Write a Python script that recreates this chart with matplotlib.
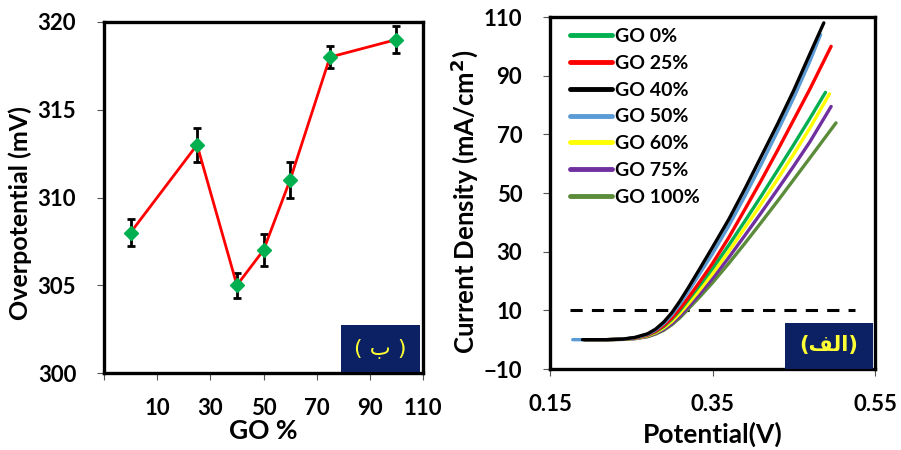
import matplotlib
matplotlib.use("Agg")
import matplotlib.pyplot as plt
from matplotlib.patches import Rectangle

plt.rcParams['font.family'] = ['Lato', 'DejaVu Sans']
plt.rcParams['font.weight'] = 'bold'

# ---- Left panel data: overpotential vs GO % ----
go_pct = [0, 25, 40, 50, 60, 75, 100]
overpot = [308, 313, 305, 307, 311, 318, 319]
overpot_err = [0.75, 0.95, 0.7, 0.9, 1.05, 0.63, 0.75]
left_xticks = [-10, 10, 30, 50, 70, 90, 110]
left_xticklabels = ['', '10', '30', '50', '70', '90', '110']
left_yticks = [300, 305, 310, 315, 320]

# ---- Right panel data: polarization curves ----
series_labels = ['GO 0%', 'GO 25%', 'GO 40%', 'GO 50%', 'GO 60%', 'GO 75%', 'GO 100%']
series_colors = ['#00B050', '#FF0000', '#000000', '#5B9BD5', '#FFFF00', '#7030A0', '#5B8C3A']

v_go40 = [0.19, 0.22, 0.24, 0.255, 0.27, 0.28, 0.29, 0.30, 0.31, 0.32, 0.335, 0.35, 0.37, 0.39, 0.41, 0.43, 0.45, 0.47, 0.487]
j_go40 = [0, 0, 0.2, 0.8, 2.0, 3.6, 6.0, 9.2, 13.2, 17.6, 24.5, 31.5, 41, 51.5, 62.5, 73.5, 85, 97.5, 108]

v_go50 = [0.178, 0.22, 0.24, 0.255, 0.27, 0.28, 0.29, 0.30, 0.31, 0.32, 0.335, 0.35, 0.37, 0.39, 0.41, 0.43, 0.45, 0.47, 0.483]
j_go50 = [0, 0, 0.2, 0.7, 1.8, 3.3, 5.5, 8.5, 12.2, 16.3, 22.8, 29.3, 38.8, 49, 59.8, 71, 82.5, 95, 104]

v_go25 = [0.193, 0.22, 0.24, 0.255, 0.27, 0.28, 0.29, 0.30, 0.31, 0.32, 0.335, 0.35, 0.37, 0.39, 0.41, 0.43, 0.45, 0.47, 0.496]
j_go25 = [0, 0, 0.2, 0.6, 1.6, 2.9, 4.8, 7.4, 10.6, 14.2, 20, 26, 34.8, 44.5, 54.3, 64.5, 75, 85.5, 100]

v_go0 = [0.193, 0.22, 0.24, 0.255, 0.27, 0.28, 0.29, 0.30, 0.31, 0.32, 0.335, 0.35, 0.37, 0.39, 0.41, 0.43, 0.45, 0.47, 0.489]
j_go0 = [0, 0, 0.2, 0.6, 1.5, 2.7, 4.5, 7.0, 10.0, 13.5, 18.8, 24.3, 32.2, 40.5, 49, 57.7, 66.5, 75.5, 84.3]

v_go60 = [0.193, 0.22, 0.24, 0.255, 0.27, 0.28, 0.29, 0.30, 0.31, 0.32, 0.335, 0.35, 0.37, 0.39, 0.41, 0.43, 0.45, 0.47, 0.494]
j_go60 = [0, 0, 0.15, 0.5, 1.3, 2.4, 4.0, 6.2, 9.0, 12.2, 17.2, 22.5, 30.1, 38.2, 46.3, 54.7, 63.3, 72.2, 83.8]

v_go75 = [0.193, 0.22, 0.24, 0.255, 0.27, 0.28, 0.29, 0.30, 0.31, 0.32, 0.335, 0.35, 0.37, 0.39, 0.41, 0.43, 0.45, 0.47, 0.496]
j_go75 = [0, 0, 0.1, 0.4, 1.1, 2.1, 3.5, 5.5, 8.1, 11.1, 15.8, 20.8, 28, 35.6, 43.3, 51.2, 59.2, 67.5, 79.5]

v_go100 = [0.193, 0.22, 0.24, 0.255, 0.27, 0.28, 0.29, 0.30, 0.31, 0.32, 0.335, 0.35, 0.37, 0.39, 0.41, 0.43, 0.45, 0.47, 0.502]
j_go100 = [0, 0, 0.1, 0.35, 1.0, 1.9, 3.2, 5.1, 7.5, 10.4, 14.8, 19.4, 26, 32.9, 40, 47.2, 54.6, 62, 73.9]

ref_v = [0.175, 0.525]
ref_j = [10, 10]

right_xticks = [0.15, 0.35, 0.55]
right_xticklabels = ['0.15', '0.35', '0.55']
right_yticks = [-10, 10, 30, 50, 70, 90, 110]

draw_order = [
    ('GO 100%', v_go100, j_go100),
    ('GO 75%', v_go75, j_go75),
    ('GO 60%', v_go60, j_go60),
    ('GO 0%', v_go0, j_go0),
    ('GO 25%', v_go25, j_go25),
    ('GO 50%', v_go50, j_go50),
    ('GO 40%', v_go40, j_go40),
]

fig = plt.figure(figsize=(9.01, 4.5), dpi=100)
axL = fig.add_axes([104/901, 1-373/450, 319/901, 351/450])
axR = fig.add_axes([550/901, 1-369/450, 325/901, 352/450])

NAVY = '#0B2163'
TXTYEL = '#FFFF33'
tick_fs = 16

def style(ax):
    for s in ax.spines.values():
        s.set_linewidth(2.4)
        s.set_color('black')
    ax.tick_params(axis='both', which='major', direction='out', length=5,
                   width=0.8, color='#555555', labelsize=tick_fs)
    ax.tick_params(axis='y', pad=15)
    ax.tick_params(axis='x', pad=13)
    for lab in ax.get_xticklabels() + ax.get_yticklabels():
        lab.set_fontweight('bold')

# ---- Left ----
axL.errorbar(go_pct, overpot, yerr=overpot_err, color='#FF0000', lw=2,
             ecolor='black', elinewidth=2, capsize=3, capthick=2,
             marker='D', markersize=7, markerfacecolor='#00B050',
             markeredgecolor='#00B050', zorder=3)
axL.set_xlim(-10, 110)
axL.set_ylim(300, 320)
axL.set_xticks(left_xticks)
axL.set_xticklabels(left_xticklabels)
axL.set_yticks(left_yticks)
style(axL)
axL.set_xlabel('GO %', fontsize=19, fontweight='bold', labelpad=0)
axL.set_ylabel('Overpotential (mV)', fontsize=18, fontweight='bold')
axL.yaxis.set_label_coords(-0.225, 0.455)
axL.add_patch(Rectangle((0.743, 0.003), 0.247, 0.134, transform=axL.transAxes,
                        facecolor=NAVY, edgecolor='none', zorder=4))
axL.text(0.866, 0.07, '( \uFE8F )', transform=axL.transAxes, ha='center', va='center',
         color=TXTYEL, fontsize=16, fontweight='normal', zorder=5,
         family=['DejaVu Sans'])

# ---- Right ----
handles = {}
for lab, v, j in draw_order:
    c = series_colors[series_labels.index(lab)]
    h, = axR.plot(v, j, color=c, lw=2.4, solid_capstyle='round', zorder=3)
    handles[lab] = h
axR.plot(ref_v, ref_j, color='black', lw=2.2, dashes=(4, 3), zorder=2)
axR.set_xlim(0.15, 0.55)
axR.set_ylim(-10, 110)
axR.set_xticks(right_xticks)
axR.set_xticklabels(right_xticklabels)
axR.set_yticks(right_yticks)
style(axR)
axR.set_xlabel('Potential(V)', fontsize=19, fontweight='bold', labelpad=5)
axR.set_ylabel('Current Density (mA/cm$^\\mathbf{2}$)', fontsize=18.5, fontweight='bold')
axR.yaxis.set_label_coords(-0.215, 0.476)
leg = axR.legend([handles[l] for l in series_labels], series_labels,
                 loc='upper left', bbox_to_anchor=(0.06, 0.968), frameon=False,
                 fontsize=14, handlelength=2.2, handletextpad=0.15,
                 labelspacing=0.5, borderpad=0, borderaxespad=0)
for t in leg.get_texts():
    t.set_fontweight('bold')
for l in leg.get_lines():
    l.set_linewidth(3.5)
axR.add_patch(Rectangle((0.723, 0.0), 0.27, 0.131, transform=axR.transAxes,
                        facecolor=NAVY, edgecolor='none', zorder=4))
axR.text(0.858, 0.068, '(\uFED2\uFEDF\uFE8D)', transform=axR.transAxes, ha='center', va='center',
         color=TXTYEL, fontsize=15, fontweight='bold', zorder=5,
         family=['DejaVu Sans'])

fig.savefig('out.png', dpi=100)
